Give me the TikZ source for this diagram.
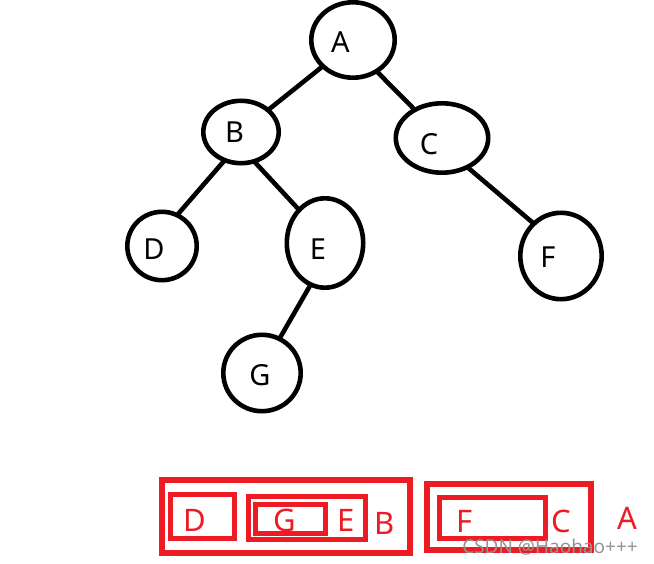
\documentclass[tikz,border=0pt]{standalone}
\usepackage{fontspec}
\setmainfont{Noto Sans}
\usetikzlibrary{shapes.geometric}
\definecolor{pred}{HTML}{ED1C24}
\begin{document}
\begin{tikzpicture}[x=1pt,y=-1pt,
  ell/.style={draw, ellipse, line width=4.6pt, inner sep=0pt, outer sep=0pt},
  tl/.style={font=\fontsize{29}{29}\selectfont, inner sep=0pt},
  edge/.style={line width=4.6pt},
  rbox/.style={draw=pred, line width=5pt},
  rl/.style={text=pred, font=\fontsize{31}{31}\selectfont, inner sep=0pt},
  wm/.style={text=black!42, font=\fontsize{19}{19}\selectfont, inner sep=0pt}]
\useasboundingbox[fill=white] (0,0) rectangle (654,564);
% tree nodes
\node[ell, minimum width=83.4pt, minimum height=75.4pt] (A) at (353,40) {};
\node[ell, minimum width=75.4pt, minimum height=62.4pt] (B) at (241,132) {};
\node[ell, minimum width=92.4pt, minimum height=69.4pt] (C) at (442,138) {};
\node[ell, minimum width=69.4pt, minimum height=68.4pt] (D) at (162,246) {};
\node[ell, minimum width=76.4pt, minimum height=89.4pt] (E) at (325,243) {};
\node[ell, minimum width=81.4pt, minimum height=86.4pt] (F) at (561,256) {};
\node[ell, minimum width=77.4pt, minimum height=76.4pt] (G) at (262,373) {};
% labels
\node[tl] (tA) at (340.5,42) {A};
\node[tl] (tB) at (234.5,132.5) {B};
\node[tl] (tC) at (429,144.5) {C};
\node[tl] (tD) at (154,249.5) {D};
\node[tl] (tE) at (318,249) {E};
\node[tl] (tF) at (548,257.5) {F};
\node[tl] (tG) at (260,375.5) {G};
% edges
\draw[edge] (A.221) -- (B.39);
\draw[edge] (A.307) -- (C.134);
\draw[edge] (B.240) -- (D.64);
\draw[edge] (B.294) -- (E.128);
\draw[edge] (C.311) -- (F.130);
\draw[edge] (E.251) -- (G.63);
% red boxes
\draw[rbox, line width=6pt] (162,480) rectangle (410,553);
\draw[rbox] (170.5,494.5) rectangle (234.5,538.5);
\draw[rbox] (248.5,496.5) rectangle (365.5,539.5);
\draw[rbox, line width=4.5pt] (255.5,504.5) rectangle (325.5,533.5);
\draw[rbox, line width=6pt] (427,484) rectangle (591,550);
\draw[rbox] (439.5,497.5) rectangle (545.5,538.5);
% red labels
\node[rl] (rD) at (194.5,520.5) {D};
\node[rl] (rG) at (284.5,520.5) {G};
\node[rl] (rE) at (346,520.5) {E};
\node[rl] (rB) at (385,523) {B};
\node[rl] (rF) at (464.5,521) {F};
\node[rl] (rC) at (561,521) {C};
\node[rl] (rA) at (627,518) {A};
% watermark
\node[wm] (wm) at (550,547) {CSDN @Haohao+++};
\end{tikzpicture}
\end{document}
